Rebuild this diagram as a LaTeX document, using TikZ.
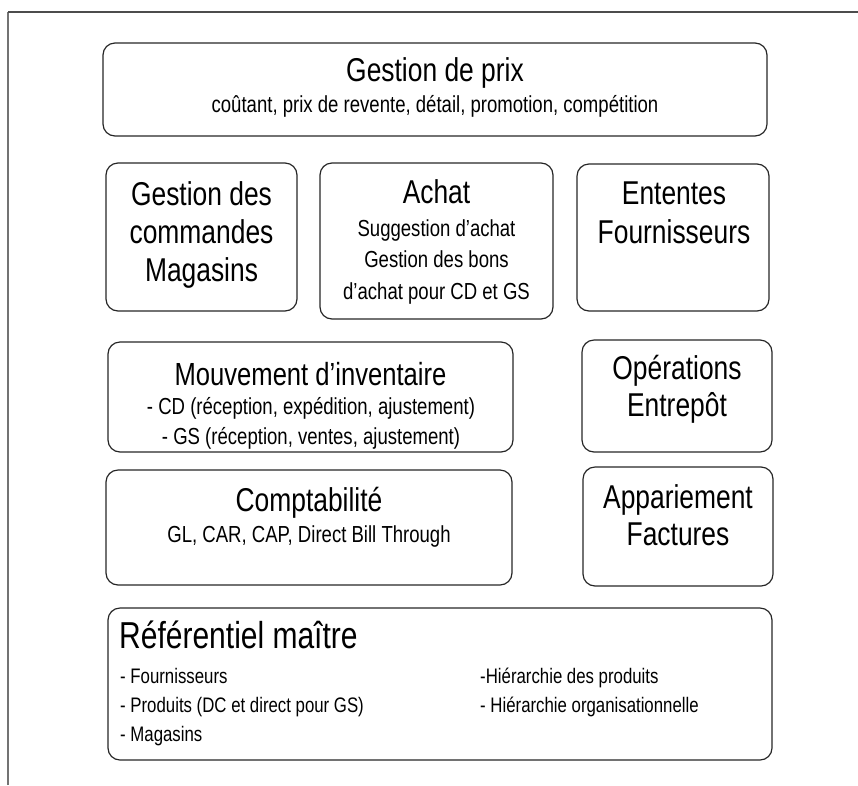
\documentclass[tikz,border=0pt]{standalone}
\usepackage{fontspec}
\setmainfont{Liberation Sans}[FakeStretch=0.8]
\usetikzlibrary{positioning}

\tikzset{
	bloc/.style={draw=black!85,line width=1.2pt,rounded corners=12pt,inner sep=0pt},
	titre/.style={font=\fontsize{33}{38}\selectfont,align=center,inner sep=0pt,anchor=base},
	detail/.style={font=\fontsize{23.2}{31.5}\selectfont,align=center,inner sep=0pt,anchor=base}
}

\begin{document}
\begin{tikzpicture}[x=1pt,y=-1pt]
		\useasboundingbox (0,0) rectangle (858,785);
		
		% page frame
		\draw[black!55,line width=1.2pt] (8,785) -- (8,12);
		\draw[black!70,line width=1.2pt] (8,12) -- (858,12);
		
		% gestion de prix
		\node[bloc,minimum width=664pt,minimum height=93pt] (prix) at (435,89.5) {};
		\node[titre] (prixT) at (435,81) {Gestion de prix};
		\node[detail] (prixD) at (435,112) {coûtant, prix de revente, détail, promotion, compétition};
		
		% second row (base = last line)
		\node[bloc,minimum width=191pt,minimum height=148pt] (cmd) at (201.5,237) {};
		\node[titre] (cmdT) at (201.5,281) {Gestion des\\commandes\\Magasins};
		
		\node[bloc,minimum width=233pt,minimum height=156pt] (achat) at (436.5,241) {};
		\node[titre] (achatT) at (436.5,203) {Achat};
		\node[detail] (achatD) at (436.5,299) {Suggestion d'achat\\Gestion des bons\\d'achat pour CD et GS};
		
		\node[bloc,minimum width=192pt,minimum height=147pt] (ententes) at (673,237.5) {};
		\node[titre,font=\fontsize{33}{39}\selectfont] (ententesT) at (674,243) {Ententes\\Fournisseurs};
		
		% third row
		\node[bloc,minimum width=405pt,minimum height=110pt] (mvt) at (310.5,397) {};
		\node[titre,font=\fontsize{32}{38}\selectfont] (mvtT) at (310.5,385) {Mouvement d'inventaire};
		\node[detail,font=\fontsize{23.2}{29.5}\selectfont] (mvtD) at (311,444) {- CD (réception, expédition, ajustement)\\- GS (réception, ventes, ajustement)};
		
		\node[bloc,minimum width=190pt,minimum height=112pt] (oper) at (677,396) {};
		\node[titre,font=\fontsize{33}{37}\selectfont] (operT) at (677,416) {Opérations\\Entrepôt};
		
		% fourth row
		\node[bloc,minimum width=406pt,minimum height=115pt] (compta) at (309,527.5) {};
		\node[titre] (comptaT) at (309,511) {Comptabilité};
		\node[detail] (comptaD) at (309,542) {GL, CAR, CAP, Direct Bill Through};
		
		\node[bloc,minimum width=190pt,minimum height=119pt] (appar) at (678,526.5) {};
		\node[titre,font=\fontsize{33}{37}\selectfont] (apparT) at (678,545) {Appariement\\Factures};
		
		% referentiel maitre
		\node[bloc,minimum width=664pt,minimum height=152pt] (ref) at (440,684) {};
		\node[titre,font=\fontsize{37.5}{40}\selectfont,anchor=base west] (refT) at (119,648) {Référentiel maître};
		\node[detail,font=\fontsize{21}{29}\selectfont,align=left,anchor=base west] (refG) at (120,741) {- Fournisseurs\\- Produits (DC et direct pour GS)\\- Magasins};
		\node[detail,font=\fontsize{21}{29}\selectfont,align=left,anchor=base west] (refD) at (480,712) {-Hiérarchie des produits\\- Hiérarchie organisationnelle};
	\end{tikzpicture}
\end{document}
